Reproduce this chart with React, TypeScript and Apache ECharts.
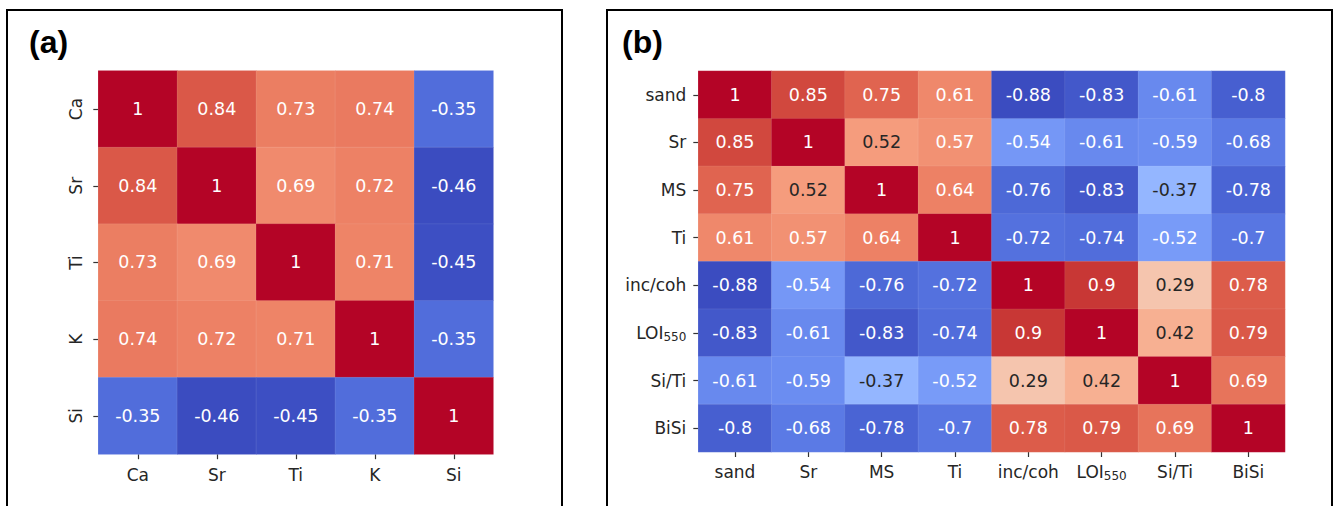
import React, { useEffect, useRef } from 'react';
import * as echarts from 'echarts';

const catsA = ['Ca', 'Sr', 'Ti', 'K', 'Si'];
const corrA = [
  [1, 0.84, 0.73, 0.74, -0.35],
  [0.84, 1, 0.69, 0.72, -0.46],
  [0.73, 0.69, 1, 0.71, -0.45],
  [0.74, 0.72, 0.71, 1, -0.35],
  [-0.35, -0.46, -0.45, -0.35, 1],
];

const catsB = ['sand', 'Sr', 'MS', 'Ti', 'inc/coh', 'LOI550', 'Si/Ti', 'BiSi'];
const corrB = [
  [1, 0.85, 0.75, 0.61, -0.88, -0.83, -0.61, -0.8],
  [0.85, 1, 0.52, 0.57, -0.54, -0.61, -0.59, -0.68],
  [0.75, 0.52, 1, 0.64, -0.76, -0.83, -0.37, -0.78],
  [0.61, 0.57, 0.64, 1, -0.72, -0.74, -0.52, -0.7],
  [-0.88, -0.54, -0.76, -0.72, 1, 0.9, 0.29, 0.78],
  [-0.83, -0.61, -0.83, -0.74, 0.9, 1, 0.42, 0.79],
  [-0.61, -0.59, -0.37, -0.52, 0.29, 0.42, 1, 0.69],
  [-0.8, -0.68, -0.78, -0.7, 0.78, 0.79, 0.69, 1],
];

const panelTitles = ['(a)', '(b)'];

// matplotlib "coolwarm" colormap, 33 evenly spaced samples
const COOLWARM: number[][] = [
  [59, 76, 192], [68, 90, 204], [77, 104, 215], [87, 117, 225], [98, 130, 234],
  [108, 142, 241], [119, 154, 247], [130, 165, 251], [141, 176, 254], [152, 185, 255],
  [163, 194, 255], [174, 201, 253], [184, 208, 249], [194, 213, 244], [204, 217, 238],
  [213, 219, 230], [221, 221, 221], [229, 216, 209], [236, 211, 197], [241, 204, 185],
  [245, 196, 173], [247, 187, 160], [247, 177, 148], [247, 166, 135], [244, 154, 123],
  [241, 141, 111], [236, 127, 99], [229, 112, 88], [222, 96, 77], [213, 80, 66],
  [203, 62, 56], [192, 40, 47], [180, 4, 38],
];

const hex = (c: number[]) =>
  '#' + c.map((v) => Math.round(v).toString(16).padStart(2, '0')).join('');

function cwAt(t: number): number[] {
  const x = Math.max(0, Math.min(1, t)) * (COOLWARM.length - 1);
  const i = Math.min(COOLWARM.length - 2, Math.floor(x));
  const f = x - i;
  return COOLWARM[i].map((v, k) => v + (COOLWARM[i + 1][k] - v) * f);
}

function luminance(c: number[]): number {
  const lin = c.map((v) => {
    const s = v / 255;
    return s <= 0.03928 ? s / 12.92 : Math.pow((s + 0.055) / 1.055, 2.4);
  });
  return 0.2126 * lin[0] + 0.7152 * lin[1] + 0.0722 * lin[2];
}

function buildData(m: number[][], vmin: number, vmax: number) {
  const out: any[] = [];
  m.forEach((row, i) =>
    row.forEach((v, j) => {
      const c = cwAt((v - vmin) / (vmax - vmin));
      out.push({
        value: [j, i, v],
        label: { color: luminance(c) > 0.408 ? '#262626' : '#ffffff' },
      });
    })
  );
  return out;
}

const FONT = 'DejaVu Sans';
const TXT = '#262626';

const richStyles = {
  n: { fontFamily: FONT, fontSize: 17, color: TXT, lineHeight: 20 },
  s: { fontFamily: FONT, fontSize: 12, color: TXT, lineHeight: 8, verticalAlign: 'bottom' },
};

const fmtCat = (v: string) =>
  v === 'LOI550' ? '{n|LOI}{s|550}' : '{n|' + v + '}';

export default function App() {
  const ref = useRef<HTMLDivElement>(null);
  useEffect(() => {
    if (!ref.current) return;
    const chart = echarts.init(ref.current, undefined, { renderer: 'svg' });
    const minA = Math.min(...corrA.flat());
    const maxA = Math.max(...corrA.flat());
    const minB = Math.min(...corrB.flat());
    const maxB = Math.max(...corrB.flat());
    const axisCommon = {
      type: 'category' as const,
      axisLine: { show: false },
      axisTick: {
        show: true,
        interval: 0,
        alignWithLabel: true,
        length: 5,
        lineStyle: { color: '#333', width: 1.2 },
      },
      splitLine: { show: false },
      splitArea: { show: false },
    };
    const cellLabel = {
      show: true,
      fontFamily: FONT,
      fontSize: 17.5,
      formatter: (p: any) => String(p.value[2]),
    };
    chart.setOption({
      animation: false,
      backgroundColor: '#ffffff',
      grid: [
        { left: 98.3, top: 70.7, width: 395, height: 383.5 },
        { left: 698.3, top: 71, width: 586.7, height: 381 },
      ],
      xAxis: [
        {
          ...axisCommon,
          gridIndex: 0,
          data: catsA,
          axisLabel: { interval: 0, margin: 11, formatter: fmtCat, rich: richStyles },
        },
        {
          ...axisCommon,
          gridIndex: 1,
          data: catsB,
          axisLabel: { interval: 0, margin: 10, formatter: fmtCat, rich: richStyles },
        },
      ],
      yAxis: [
        {
          ...axisCommon,
          gridIndex: 0,
          inverse: true,
          data: catsA,
          axisLabel: { interval: 0, margin: 12, rotate: 90, formatter: fmtCat, rich: richStyles },
        },
        {
          ...axisCommon,
          gridIndex: 1,
          inverse: true,
          data: catsB,
          axisLabel: { interval: 0, margin: 12, formatter: fmtCat, rich: richStyles },
        },
      ],
      visualMap: [
        {
          type: 'continuous',
          show: false,
          seriesIndex: 0,
          dimension: 2,
          min: minA,
          max: maxA,
          inRange: { color: COOLWARM.map(hex) },
        },
        {
          type: 'continuous',
          show: false,
          seriesIndex: 1,
          dimension: 2,
          min: minB,
          max: maxB,
          inRange: { color: COOLWARM.map(hex) },
        },
      ],
      series: [
        {
          type: 'heatmap',
          xAxisIndex: 0,
          yAxisIndex: 0,
          data: buildData(corrA, minA, maxA),
          label: cellLabel,
          itemStyle: { borderColor: 'rgba(255,255,255,0.08)', borderWidth: 1 },
          emphasis: { disabled: true },
        },
        {
          type: 'heatmap',
          xAxisIndex: 1,
          yAxisIndex: 1,
          data: buildData(corrB, minB, maxB),
          label: cellLabel,
          itemStyle: { borderColor: 'rgba(255,255,255,0.08)', borderWidth: 1 },
          emphasis: { disabled: true },
        },
      ],
      graphic: [
        {
          type: 'rect',
          shape: { x: 7, y: 10, width: 555, height: 520 },
          style: { fill: 'none', stroke: '#000', lineWidth: 2 },
          silent: true,
        },
        {
          type: 'rect',
          shape: { x: 607, y: 10, width: 725, height: 520 },
          style: { fill: 'none', stroke: '#000', lineWidth: 2 },
          silent: true,
        },
        {
          type: 'text',
          x: 29,
          y: 26,
          style: {
            text: panelTitles[0],
            font: 'bold 32px "Liberation Sans", Arial, sans-serif',
            fill: '#000',
          },
        },
        {
          type: 'text',
          x: 622,
          y: 26,
          style: {
            text: panelTitles[1],
            font: 'bold 32px "Liberation Sans", Arial, sans-serif',
            fill: '#000',
          },
        },
      ],
    });
    return () => chart.dispose();
  }, []);
  return (
    <div
      ref={ref}
      style={{ position: 'fixed', left: 0, top: 0, width: 1335, height: 506 }}
    />
  );
}
